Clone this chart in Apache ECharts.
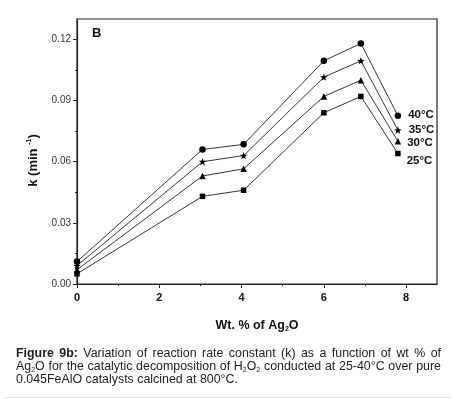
<!DOCTYPE html>
<html>
<head>
<meta charset="utf-8">
<script src="https://cdn.jsdelivr.net/npm/echarts@6/dist/echarts.min.js"></script>
<style>
  html, body { margin: 0; padding: 0; background: #fff; }
  #wrap { position: relative; width: 453px; height: 399px; overflow: hidden; }
  #chart { position: absolute; left: 0; top: 0; width: 453px; height: 399px; }
  #caption {
    position: absolute; left: 16px; top: 347px; width: 425px;
    font-family: "Liberation Sans", Arial, sans-serif; font-size: 12.4px;
    line-height: 13px; color: #222; text-align: justify;
  }
  #caption sub { font-size: 7px; vertical-align: -2px; line-height: 0; }
  #bline { position: absolute; left: 3px; right: 3px; top: 397px; height: 1px; background: #e3e3e3; }
</style>
</head>
<body>
<div id="wrap">
  <div id="chart"></div>
  <div id="caption"><b>Figure 9b:</b> Variation of reaction rate constant (k) as a function of wt % of Ag<sub>2</sub>O for the catalytic decomposition of H<sub>2</sub>O<sub>2</sub> conducted at 25-40°C over pure 0.045FeAlO catalysts calcined at 800°C.</div>
  <div id="bline"></div>
</div>
<script>
// Wt. % of Ag2O
var wt = [0, 3.05, 4.05, 6, 6.9, 7.8];
// k (min-1) at each temperature
var k25 = [0.005, 0.043, 0.046, 0.084, 0.092, 0.064];
var k30 = [0.007, 0.053, 0.0565, 0.092, 0.100, 0.070];
var k35 = [0.009, 0.060, 0.063, 0.1015, 0.1095, 0.0755];
var k40 = [0.011, 0.066, 0.0685, 0.1095, 0.118, 0.0825];
var tempNames = ['25°C', '30°C', '35°C', '40°C'];
// ticks
var xTicks = [0, 2, 4, 6, 8];
var xMinor = [1, 3, 5, 7];
var yTicks = [0, 0.03, 0.06, 0.09, 0.12];
var yMinor = [0.015, 0.045, 0.075, 0.105];

var starPath = 'path://M0,-10 L2.35,-3.24 9.51,-3.09 3.8,1.24 5.88,8.09 0,4 -5.88,8.09 -3.8,1.24 -9.51,-3.09 -2.35,-3.24Z';

var font = '"Liberation Sans", Arial, sans-serif';

function mk(name, vals, symbol, size, labelOffset) {
  var data = wt.map(function (x, i) { return [x, vals[i]]; });
  var last = data.length - 1;
  data[last] = {
    value: data[last],
    label: {
      show: true, position: 'right', distance: 6, offset: labelOffset,
      formatter: name, color: '#111', fontWeight: 'bold', fontSize: 11.5, fontFamily: font
    }
  };
  return {
    name: name, type: 'line', data: data,
    symbol: symbol, symbolSize: size, showAllSymbol: true,
    lineStyle: { color: '#000', width: 0.8 },
    itemStyle: { color: '#000' },
    animation: false, silent: true
  };
}

// a second, hidden-label axis pair draws the short minor ticks
var chart = echarts.init(document.getElementById('chart'));
chart.setOption({
  animation: false,
  grid: { left: 77, right: 16, top: 19, bottom: 115, show: true, borderColor: '#222', borderWidth: 1.2 },
  xAxis: [{
    type: 'value', min: 0, max: 8.75,
    name: '{b|Wt. % of Ag}{s|2}{b|O}', nameLocation: 'middle', nameGap: 35,
    nameTextStyle: { rich: {
      b: { fontWeight: 'bold', fontSize: 12.5, fontFamily: font, color: '#111' },
      s: { fontWeight: 'bold', fontSize: 7, fontFamily: font, color: '#111', padding: [7, 0, 0, 0] }
    } },
    axisLine: { lineStyle: { color: '#222', width: 1.2 } },
    axisTick: { length: 4, customValues: xTicks, lineStyle: { color: '#222' } },
    axisLabel: { fontWeight: 'bold', fontSize: 11, fontFamily: font, color: '#111', margin: 8,
      customValues: xTicks, formatter: function (v) { return v; } },
    splitLine: { show: false }
  }, {
    type: 'value', min: 0, max: 8.75, position: 'bottom',
    axisLine: { show: false },
    axisTick: { show: true, length: 2, customValues: xMinor, lineStyle: { color: '#222' } },
    axisLabel: { show: false }, splitLine: { show: false }
  }],
  yAxis: [{
    type: 'value', min: 0, max: 0.13,
    name: '{b|k (min }{s|-1}{b|)}', nameLocation: 'middle', nameGap: 36,
    nameTextStyle: { padding: [0, 0, 0, -18], rich: {
      b: { fontWeight: 'bold', fontSize: 13, fontFamily: font, color: '#111' },
      s: { fontWeight: 'bold', fontSize: 7, fontFamily: font, color: '#111', padding: [0, 0, 8, 0] }
    } },
    axisLine: { show: true, lineStyle: { color: '#222', width: 1.2 } },
    axisTick: { show: true, length: 4, customValues: yTicks, lineStyle: { color: '#222' } },
    axisLabel: { fontSize: 10, fontFamily: font, color: '#333', margin: 6,
      customValues: yTicks, formatter: function (v) { return v.toFixed(2); } },
    splitLine: { show: false }
  }, {
    type: 'value', min: 0, max: 0.13, position: 'left',
    axisLine: { show: false },
    axisTick: { show: true, length: 2, customValues: yMinor, lineStyle: { color: '#222' } },
    axisLabel: { show: false }, splitLine: { show: false }
  }],
  graphic: [{
    type: 'text', left: 92, top: 27,
    style: { text: 'B', font: 'bold 13px ' + font, fill: '#111' }
  }],
  series: [
    mk(tempNames[0], k25, 'rect', 5.5, [0, 7]),
    mk(tempNames[1], k30, 'triangle', 6.5, [0, 2]),
    mk(tempNames[2], k35, starPath, 7.5, [1, 0]),
    mk(tempNames[3], k40, 'circle', 6.5, [1, -1])
  ]
});
</script>
</body>
</html>
